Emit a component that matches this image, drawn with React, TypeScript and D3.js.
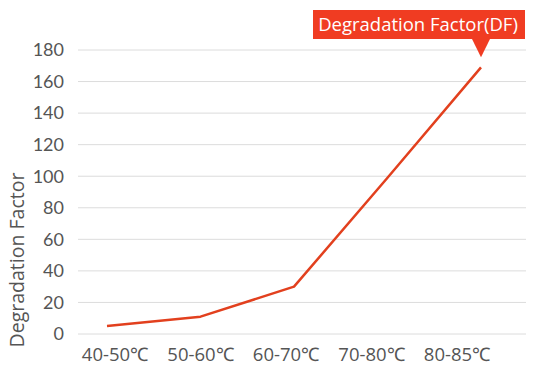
import React from "react";
import * as d3 from "d3";

const categories = ["40-50℃", "50-60℃", "60-70℃", "70-80℃", "80-85℃"];
const values = [5, 11, 30, 99, 169];
const yTicks = [0, 20, 40, 60, 80, 100, 120, 140, 160, 180];
const calloutText = "Degradation Factor(DF)";
const yTitle = "Degradation Factor";

export default function App() {
  const W = 540, H = 371;
  const y = d3.scaleLinear().domain([0, 180]).range([334, 50]);
  const xLine = d3.scalePoint<string>().domain(categories).range([107, 481]);
  const xLab = d3.scalePoint<string>().domain(categories).range([115, 457]);
  const line = d3.line<number>()
    .x((_, i) => xLine(categories[i]) as number)
    .y((d) => y(d));
  const lastX = xLine(categories[categories.length - 1]) as number;
  const lastY = y(values[values.length - 1]);
  const font = "'Open Sans', 'Segoe UI', sans-serif";
  return (
    <svg width={W} height={H} style={{ position: "absolute", left: 0, top: 0, background: "#fff" }}>
      {yTicks.map((t) => (
        <g key={t}>
          <line x1={78} x2={526} y1={y(t)} y2={y(t)} stroke="#dcdcdc" strokeWidth={1} />
          <text x={64} y={y(t)} dy="0.35em" textAnchor="end" fontFamily="Lato, sans-serif" fontSize={18} fill="#555">{t}</text>
        </g>
      ))}
      {categories.map((c) => (
        <text key={c} x={xLab(c)} y={361} textAnchor="middle" fontFamily={font} fontSize={18.5} fill="#555">{c}</text>
      ))}
      <text transform={`translate(24,260) rotate(-90)`} textAnchor="middle" fontFamily={font} fontSize={19.5} fill="#555">{yTitle}</text>
      <path d={line(values) || ""} fill="none" stroke="#E2401E" strokeWidth={2.5} strokeLinejoin="round" />
      <rect x={313} y={10} width={212} height={29} fill="#F03C22" />
      <path d={`M${lastX - 9},39 L${lastX + 9},39 L${lastX},${lastY - 10} Z`} fill="#F03C22" />
      <text x={418} y={25} dy="0.35em" textAnchor="middle" fontFamily={font} fontSize={18.5} fill="#fff">{calloutText}</text>
    </svg>
  );
}
